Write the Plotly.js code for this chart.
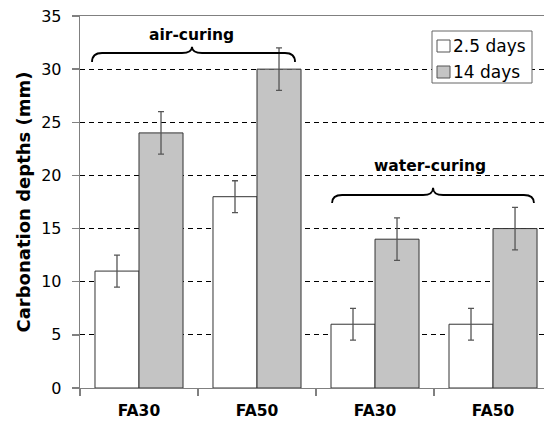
<!DOCTYPE html>
<html>
<head>
<meta charset="utf-8">
<script src="https://cdn.plot.ly/plotly-3.0.1.min.js"></script>
<style>html,body{margin:0;padding:0;background:#fff;}#chart{width:544px;height:421px;}</style>
</head>
<body>
<div id="chart"></div>
<script>
// Data
const categories = ["FA30", "FA50", "FA30\u200B", "FA50\u200B"];
const seriesNames = ["2.5 days", "14 days"];
const days25 = [11, 18, 6, 6];
const days25Err = [1.5, 1.5, 1.5, 1.5];
const days14 = [24, 30, 14, 15];
const days14Err = [2, 2, 2, 2];
const yTicks = [0, 5, 10, 15, 20, 25, 30, 35];
const groupLabels = ["air-curing", "water-curing"];
const seriesColors = ["#ffffff", "#c4c4c4"];

const FONT = "DejaVu Sans, Verdana, sans-serif";

// plot area in pixels (for layout-only helpers)
const PL = 80, PR = 544, PT = 16, PB = 388;
const px = v => (v - PL) / (PR - PL);
const py = v => (PB - v) / (PB - PT);

const traces = [
  {
    type: "bar", name: seriesNames[0], x: categories, y: days25,
    marker: {color: seriesColors[0], line: {color: "#333333", width: 1}},
    error_y: {type: "data", array: days25Err, visible: true, color: "#555555", thickness: 1.3, width: 3}
  },
  {
    type: "bar", name: seriesNames[1], x: categories, y: days14,
    marker: {color: seriesColors[1], line: {color: "#333333", width: 1}},
    error_y: {type: "data", array: days14Err, visible: true, color: "#555555", thickness: 1.3, width: 3}
  }
];

function brace(x0, x1, xc, yEnd, yH, yPeak, dx) {
  return `M ${x0},${yEnd} Q ${x0},${yH} ${x0+dx},${yH} L ${xc-dx},${yH} Q ${xc},${yH} ${xc},${yPeak} ` +
         `Q ${xc},${yH} ${xc+dx},${yH} L ${x1-dx},${yH} Q ${x1},${yH} ${x1},${yEnd}`;
}

const legendShapes = [
  {type: "rect", xref: "paper", yref: "paper", x0: px(432), x1: px(532), y0: py(83), y1: py(31),
   fillcolor: "#ffffff", line: {color: "#666666", width: 1}},
  {type: "rect", xref: "paper", yref: "paper", x0: px(437), x1: px(450), y0: py(52), y1: py(40),
   fillcolor: seriesColors[0], line: {color: "#555555", width: 1}},
  {type: "rect", xref: "paper", yref: "paper", x0: px(437), x1: px(450), y0: py(78), y1: py(66),
   fillcolor: seriesColors[1], line: {color: "#555555", width: 1}}
];
const legendTexts = [
  {text: seriesNames[0], xref: "paper", yref: "paper", x: px(451), y: py(46), xanchor: "left", yanchor: "middle",
   showarrow: false, font: {family: FONT, size: 17, color: "#000"}},
  {text: seriesNames[1], xref: "paper", yref: "paper", x: px(451), y: py(72), xanchor: "left", yanchor: "middle",
   showarrow: false, font: {family: FONT, size: 17, color: "#000"}}
];

const layout = {
  width: 544, height: 421,
  margin: {l: PL, r: 544 - PR, t: PT, b: 421 - PB},
  paper_bgcolor: "#ffffff", plot_bgcolor: "#ffffff",
  barmode: "group", bargap: 0.254, bargroupgap: 0,
  font: {family: FONT, color: "#000000", size: 16},
  showlegend: false,
  xaxis: {
    type: "category", range: [-0.5, 3.432],
    showline: true, linecolor: "#808080", linewidth: 1.3, mirror: true,
    ticks: "outside", tickson: "boundaries", ticklen: 7, tickcolor: "#808080", tickwidth: 1.3,
    ticklabelstandoff: 8,
    tickfont: {family: FONT, size: 15.5, color: "#000", weight: "bold"},
    showgrid: false, fixedrange: true
  },
  yaxis: {
    range: [0, 35], tickmode: "array", tickvals: yTicks,
    showline: true, linecolor: "#808080", linewidth: 1.3,
    ticks: "outside", ticklen: 7, tickcolor: "#808080", tickwidth: 1.3,
    ticklabelstandoff: 7,
    tickfont: {family: FONT, size: 16, color: "#000"},
    showgrid: true, gridcolor: "#000000", gridwidth: 1, griddash: "5px,4px",
    zeroline: false,
    title: {text: "Carbonation depths (mm)", font: {family: FONT, size: 18, weight: "bold", color: "#000"}, standoff: 5}
  },
  shapes: [
    {type: "path", xref: "x", yref: "y", path: brace(-0.398, 1.322, 0.449, 30.67, 31.52, 32.1, 0.085),
     line: {color: "#000", width: 1.8}},
    {type: "path", xref: "x", yref: "y", path: brace(1.636, 3.347, 2.492, 17.40, 18.16, 18.85, 0.085),
     line: {color: "#000", width: 1.8}}
  ].concat(legendShapes),
  annotations: [
    {text: groupLabels[0], xref: "x", yref: "y", x: 0.445, y: 33.2, showarrow: false,
     font: {family: FONT, size: 15.5, weight: "bold", color: "#000"}},
    {text: groupLabels[1], xref: "x", yref: "y", x: 2.466, y: 20.9, showarrow: false,
     font: {family: FONT, size: 15.5, weight: "bold", color: "#000"}}
  ].concat(legendTexts)
};

Plotly.newPlot("chart", traces, layout, {displayModeBar: false, staticPlot: true});
</script>
</body>
</html>
